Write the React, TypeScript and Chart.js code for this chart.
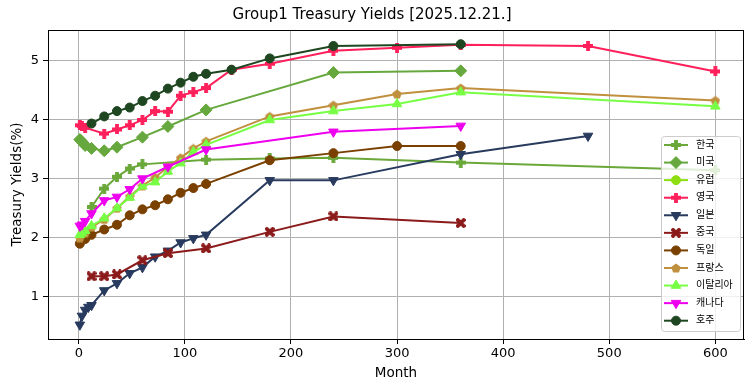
import React, { useEffect, useRef } from "react";
import { Chart, registerables } from "chart.js";
import { drawPoint } from "chart.js/helpers";
Chart.register(...registerables);

const titleText = "Group1 Treasury Yields [2025.12.21.]";
const xTitle = "Month";
const yTitle = "Treasury Yields(%)";

const names = ["한국", "미국", "유럽", "영국", "일본", "중국", "독일", "프랑스", "이탈리아", "캐나다", "호주"];
const colors = ["#6aa83a", "#66a83d", "#8ddf12", "#ff1f5b", "#283a5e", "#8b1a1a", "#7a4000", "#c0903f", "#77ff44", "#ee00ee", "#1e4620"];
const markers = ["P", "D", "o", "P", "v", "X", "o", "p", "^", "v", "o"];

const koreaMonths = [12, 24, 36, 48, 60, 120, 180, 240, 360, 600];
const koreaYields = [2.52, 2.83, 3.03, 3.17, 3.24, 3.32, 3.34, 3.35, 3.27, 3.14];

const usMonths = [1, 2, 3, 4, 6, 12, 24, 36, 60, 84, 120, 240, 360];
const usYields = [3.66, 3.64, 3.62, 3.6, 3.56, 3.51, 3.47, 3.53, 3.7, 3.88, 4.16, 4.79, 4.82];

const euMonths: number[] = [];
const euYields: number[] = [];

const ukMonths = [1, 3, 6, 24, 36, 48, 60, 72, 84, 96, 108, 120, 144, 180, 240, 300, 360, 480, 600];
const ukYields = [3.9, 3.89, 3.86, 3.76, 3.83, 3.9, 3.99, 4.14, 4.13, 4.4, 4.46, 4.53, 4.84, 4.94, 5.16, 5.21, 5.26, 5.24, 4.81];

const jpMonths = [1, 3, 6, 9, 12, 24, 36, 48, 60, 72, 84, 96, 108, 120, 180, 240, 360, 480];
const jpYields = [0.53, 0.68, 0.78, 0.83, 0.86, 1.11, 1.23, 1.4, 1.5, 1.68, 1.78, 1.92, 1.99, 2.05, 2.97, 2.97, 3.41, 3.72];

const cnMonths = [12, 24, 36, 60, 84, 120, 180, 240, 360];
const cnYields = [1.35, 1.35, 1.38, 1.62, 1.74, 1.82, 2.1, 2.36, 2.25];

const deMonths = [1, 6, 12, 24, 36, 48, 60, 72, 84, 96, 108, 120, 180, 240, 300, 360];
const deYields = [1.9, 1.98, 2.05, 2.14, 2.22, 2.38, 2.48, 2.55, 2.65, 2.76, 2.84, 2.91, 3.31, 3.43, 3.55, 3.55];

const frMonths = [1, 6, 12, 24, 36, 48, 60, 72, 84, 96, 108, 120, 180, 240, 300, 360, 600];
const frYields = [2.0, 2.08, 2.18, 2.31, 2.5, 2.7, 2.88, 3.02, 3.2, 3.35, 3.51, 3.63, 4.05, 4.24, 4.43, 4.53, 4.32];

const itMonths = [1, 3, 6, 12, 24, 36, 48, 60, 72, 84, 96, 108, 120, 180, 240, 300, 360, 600];
const itYields = [2.05, 2.08, 2.12, 2.2, 2.33, 2.5, 2.68, 2.87, 2.94, 3.12, 3.26, 3.45, 3.57, 3.99, 4.14, 4.26, 4.46, 4.22];

const caMonths = [1, 3, 6, 12, 24, 36, 48, 60, 84, 120, 240, 360];
const caYields = [2.2, 2.22, 2.28, 2.41, 2.63, 2.69, 2.82, 3.0, 3.2, 3.49, 3.79, 3.89];

const auMonths = [12, 24, 36, 48, 60, 72, 84, 96, 108, 120, 144, 180, 240, 360];
const auYields = [3.93, 4.05, 4.14, 4.2, 4.31, 4.4, 4.52, 4.62, 4.72, 4.77, 4.84, 5.03, 5.24, 5.27];

const allMonths = [koreaMonths, usMonths, euMonths, ukMonths, jpMonths, cnMonths, deMonths, frMonths, itMonths, caMonths, auMonths];
const allYields = [koreaYields, usYields, euYields, ukYields, jpYields, cnYields, deYields, frYields, itYields, caYields, auYields];

const FONT = "'DejaVu Sans', 'Noto Sans CJK KR', sans-serif";

function makeMarker(kind: string, color: string, size: number): HTMLCanvasElement {
  const c = document.createElement("canvas");
  c.width = size;
  c.height = size;
  const ctx = c.getContext("2d")!;
  ctx.fillStyle = color;
  const h = size / 2;
  const t = size * 0.19;
  ctx.translate(h, h);
  if (kind === "X") ctx.rotate(Math.PI / 4);
  if (kind === "P" || kind === "X") {
    const a = kind === "X" ? h * 1.2 : h;
    ctx.beginPath();
    ctx.rect(-a, -t, 2 * a, 2 * t);
    ctx.rect(-t, -a, 2 * t, 2 * a);
    ctx.fill("nonzero");
  } else if (kind === "p") {
    ctx.beginPath();
    for (let i = 0; i < 5; i++) {
      const ang = -Math.PI / 2 + (i * 2 * Math.PI) / 5;
      const px = Math.cos(ang) * h;
      const py = Math.sin(ang) * h + h * 0.1;
      if (i === 0) ctx.moveTo(px, py);
      else ctx.lineTo(px, py);
    }
    ctx.closePath();
    ctx.fill();
  }
  return c;
}

function styleFor(kind: string, color: string) {
  if (kind === "P") return { pointStyle: makeMarker("P", color, 10), radius: 5, rotation: 0 };
  if (kind === "X") return { pointStyle: makeMarker("X", color, 10), radius: 5, rotation: 0 };
  if (kind === "p") return { pointStyle: makeMarker("p", color, 10), radius: 5, rotation: 0 };
  if (kind === "D") return { pointStyle: "rectRot", radius: 6, rotation: 0 };
  if (kind === "^") return { pointStyle: "triangle", radius: 5.5, rotation: 0 };
  if (kind === "v") return { pointStyle: "triangle", radius: 5.5, rotation: 180 };
  return { pointStyle: "circle", radius: 4.5, rotation: 0 };
}

export default function App() {
  const ref = useRef<HTMLCanvasElement | null>(null);
  useEffect(() => {
    document.body.style.margin = "0";
    const canvas = ref.current!;
    const styles = names.map((_, i) => styleFor(markers[i], colors[i]));
    const datasets = names.map((n, i) => ({
      label: n,
      data: allMonths[i].map((m, j) => ({ x: m, y: allYields[i][j] })),
      borderColor: colors[i],
      backgroundColor: colors[i],
      borderWidth: 2,
      pointStyle: styles[i].pointStyle as any,
      pointRadius: styles[i].radius,
      pointRotation: styles[i].rotation,
      pointBackgroundColor: colors[i],
      pointBorderColor: colors[i],
      pointBorderWidth: 1,
      order: names.length - i,
      tension: 0,
    }));

    const framePlugin = {
      id: "frame",
      afterDatasetsDraw(chart: any) {
        const { ctx, chartArea: a } = chart;
        ctx.save();
        ctx.strokeStyle = "#000";
        ctx.lineWidth = 1;
        ctx.strokeRect(Math.round(a.left) + 0.5, Math.round(a.top) + 0.5, Math.round(a.right - a.left) - 1, Math.round(a.bottom - a.top));
        ctx.restore();
      },
      afterDraw(chart: any) {
        const { ctx } = chart;
        const bx = 661.5, by = 136.5, bw = 79, bh = 195;
        ctx.save();
        ctx.beginPath();
        const r = 3;
        ctx.moveTo(bx + r, by);
        ctx.arcTo(bx + bw, by, bx + bw, by + bh, r);
        ctx.arcTo(bx + bw, by + bh, bx, by + bh, r);
        ctx.arcTo(bx, by + bh, bx, by, r);
        ctx.arcTo(bx, by, bx + bw, by, r);
        ctx.closePath();
        ctx.fillStyle = "rgba(255,255,255,0.8)";
        ctx.fill();
        ctx.strokeStyle = "#cccccc";
        ctx.lineWidth = 1;
        ctx.stroke();
        ctx.font = `10px ${FONT}`;
        ctx.textBaseline = "middle";
        ctx.textAlign = "left";
        names.forEach((n, i) => {
          const y = 145 + i * 17.57;
          ctx.strokeStyle = colors[i];
          ctx.lineWidth = 2;
          ctx.beginPath();
          ctx.moveTo(664, y);
          ctx.lineTo(688, y);
          ctx.stroke();
          ctx.fillStyle = colors[i];
          ctx.strokeStyle = colors[i];
          ctx.lineWidth = 1;
          drawPoint(ctx, { pointStyle: styles[i].pointStyle as any, rotation: styles[i].rotation, radius: styles[i].radius, borderWidth: 1 } as any, 676, y);
          ctx.fillStyle = "#000";
          ctx.fillText(n, 696, y);
        });
        ctx.restore();
      },
    };

    const chart = new Chart(canvas, {
      type: "line",
      data: { datasets: datasets as any },
      options: {
        animation: false,
        responsive: false,
        devicePixelRatio: 1,
        layout: { padding: { left: 0, right: 11, top: 0, bottom: 0 } },
        plugins: {
          legend: { display: false },
          tooltip: { enabled: false },
          title: {
            display: true,
            text: titleText,
            color: "#000",
            font: { size: 15, family: FONT, weight: "normal" as any },
            padding: { top: 6, bottom: 6 },
          },
        },
        scales: {
          x: {
            type: "linear",
            min: -29,
            max: 627,
            afterFit: (s: any) => {
              s.height = 52;
            },
            ticks: { stepSize: 100, includeBounds: false, color: "#000", font: { size: 13, family: FONT }, padding: 2, maxRotation: 0 },
            grid: { color: "#b0b0b0", lineWidth: 1, tickColor: "#000", tickLength: 5, drawTicks: true },
            border: { display: true, color: "#000", width: 1 },
            title: { display: true, text: xTitle, color: "#000", font: { size: 13.5, family: FONT }, padding: { top: 0, bottom: 9 } },
          },
          y: {
            type: "linear",
            min: 0.29,
            max: 5.51,
            afterFit: (s: any) => {
              s.width = 48;
            },
            ticks: { stepSize: 1, includeBounds: false, color: "#000", font: { size: 13, family: FONT }, padding: 4 },
            grid: { color: "#b0b0b0", lineWidth: 1, tickColor: "#000", tickLength: 5, drawTicks: true },
            border: { display: true, color: "#000", width: 1 },
            title: { display: true, text: yTitle, color: "#000", font: { size: 13.5, family: FONT }, padding: { top: 9, bottom: 0 } },
          },
        },
      },
      plugins: [framePlugin],
    });
    return () => chart.destroy();
  }, []);
  return (
    <div style={{ width: 755, height: 391 }}>
      <canvas ref={ref} width={755} height={391} style={{ display: "block" }} />
    </div>
  );
}
